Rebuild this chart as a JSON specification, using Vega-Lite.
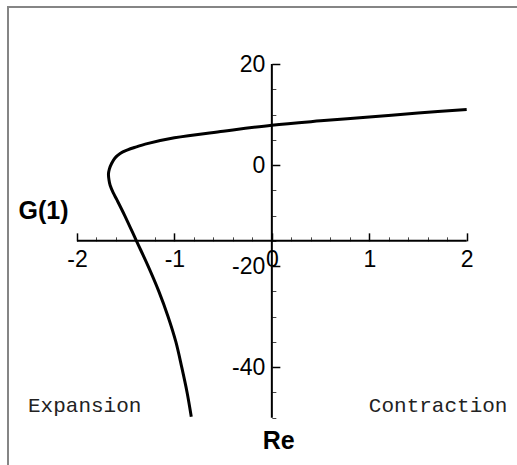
{
  "$schema": "https://vega.github.io/schema/vega-lite/v6.json",
  "autosize": {"type": "none"},
  "padding": {"left": 8, "top": 7, "right": 0, "bottom": 0},
  "width": 520,
  "height": 470,
  "background": "white",
  "config": {
    "view": {"stroke": "#858585", "strokeWidth": 2},
    "axis": {
      "grid": false,
      "domain": false,
      "labelFont": "Liberation Sans",
      "labelFontSize": 23,
      "labelColor": "black",
      "titleFont": "Liberation Sans",
      "titleFontSize": 25,
      "titleFontWeight": "bold",
      "titleColor": "black",
      "tickColor": "black"
    }
  },
  "encoding": {
    "x": {
      "field": "g",
      "type": "quantitative",
      "scale": {"domain": [-2.7082, 2.6292], "nice": false, "zero": false},
      "axis": {
        "orient": "bottom",
        "offset": -236.15,
        "values": [-2, -1.8, -1.6, -1.4, -1.2, -1, -0.8, -0.6, -0.4, -0.2, 0, 0.2, 0.4, 0.6, 0.8, 1, 1.2, 1.4, 1.6, 1.8, 2],
        "labelExpr": "datum.value % 1 === 0 ? toString(datum.value) : ''",
        "labelBaseline": "top",
        "labelPadding": 16,
        "labelFlush": false,
        "labelOverlap": false,
        "tickSize": {"condition": {"test": "datum.value % 1 === 0", "value": -8}, "value": -4},
        "tickWidth": {"condition": {"test": "datum.value % 1 === 0", "value": 1.5}, "value": 1},
        "tickColor": {"condition": {"test": "datum.value % 1 === 0", "value": "black"}, "value": "#444"},
        "title": "G(1)",
        "titleAngle": 0,
        "titleX": 35,
        "titleY": -22,
        "titleAlign": "center",
        "titleBaseline": "alphabetic"
      }
    },
    "y": {
      "field": "re",
      "type": "quantitative",
      "scale": {"domain": [-61.735, 31.281], "nice": false, "zero": false},
      "axis": {
        "orient": "left",
        "offset": -263.85,
        "values": [20, 15, 10, 5, 0, -5, -10, -15, -20, -25, -30, -35, -40, -45, -50],
        "labelExpr": "datum.value % 20 === 0 ? toString(datum.value) : ''",
        "labelPadding": 15,
        "labelFlush": false,
        "labelOverlap": false,
        "tickSize": {"condition": {"test": "datum.value % 20 === 0", "value": -8}, "value": -4},
        "tickWidth": {"condition": {"test": "datum.value % 20 === 0", "value": 1.5}, "value": 1},
        "tickColor": {"condition": {"test": "datum.value % 20 === 0", "value": "black"}, "value": "#444"},
        "title": "Re",
        "titleAngle": 0,
        "titleX": 6.3,
        "titleY": 441,
        "titleAlign": "center",
        "titleBaseline": "alphabetic"
      }
    }
  },
  "layer": [
    {
      "data": {"values": [
        {"g": -2, "g2": 2, "re": -15}
      ]},
      "mark": {"type": "rule", "color": "black", "strokeWidth": 2},
      "encoding": {"x2": {"field": "g2"}}
    },
    {
      "data": {"values": [
        {"g": 0, "re": -50, "re2": 20}
      ]},
      "mark": {"type": "rule", "color": "black", "strokeWidth": 2},
      "encoding": {"y2": {"field": "re2"}}
    },
    {
      "data": {"values": [
        {"i": 1, "g": 2.0, "re": 11.0},
        {"i": 2, "g": 1.5, "re": 10.3},
        {"i": 3, "g": 1.0, "re": 9.5},
        {"i": 4, "g": 0.5, "re": 8.75},
        {"i": 5, "g": 0.0, "re": 7.9},
        {"i": 6, "g": -0.5, "re": 6.7},
        {"i": 7, "g": -1.0, "re": 5.4},
        {"i": 8, "g": -1.3, "re": 4.15},
        {"i": 9, "g": -1.39, "re": 3.6},
        {"i": 10, "g": -1.48, "re": 3.0},
        {"i": 11, "g": -1.557, "re": 2.3},
        {"i": 12, "g": -1.61, "re": 1.4},
        {"i": 13, "g": -1.645, "re": 0.3},
        {"i": 14, "g": -1.668, "re": -0.8},
        {"i": 15, "g": -1.677, "re": -1.8},
        {"i": 16, "g": -1.672, "re": -2.9},
        {"i": 17, "g": -1.66, "re": -4.0},
        {"i": 18, "g": -1.63, "re": -5.4},
        {"i": 19, "g": -1.59, "re": -6.9},
        {"i": 20, "g": -1.51, "re": -10.0},
        {"i": 21, "g": -1.39, "re": -15.0},
        {"i": 22, "g": -1.27, "re": -20.0},
        {"i": 23, "g": -1.16, "re": -25.0},
        {"i": 24, "g": -1.065, "re": -30.0},
        {"i": 25, "g": -0.985, "re": -35.0},
        {"i": 26, "g": -0.925, "re": -40.0},
        {"i": 27, "g": -0.87, "re": -45.0},
        {"i": 28, "g": -0.827, "re": -49.8}
      ]},
      "mark": {"type": "line", "color": "black", "strokeWidth": 3, "interpolate": "catmull-rom"},
      "encoding": {"order": {"field": "i", "type": "quantitative"}}
    },
    {
      "data": {"values": [
        {"g": -1.921, "re": -48.9, "label": "Expansion"},
        {"g": 1.707, "re": -48.9, "label": "Contraction"}
      ]},
      "mark": {"type": "text", "font": "Liberation Mono", "fontSize": 21, "color": "#222", "align": "center", "baseline": "alphabetic"},
      "encoding": {"text": {"field": "label"}}
    }
  ]
}
